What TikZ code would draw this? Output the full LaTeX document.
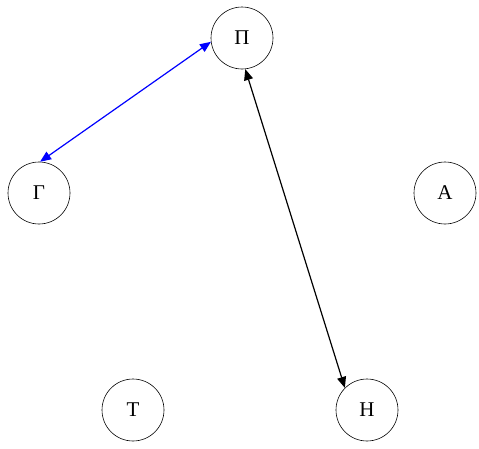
\documentclass[tikz,border=0pt]{standalone}
\usepackage{fontspec}
\newfontfamily\grfont[Scale=2.1]{Liberation Serif}
\usetikzlibrary{arrows.meta}
\begin{document}
\begin{tikzpicture}[x=1pt,y=-1pt,
  vtx/.style={circle,draw,line width=0.6pt,minimum size=62pt,inner sep=0pt,font=\grfont},
  edge/.style={line width=1.2pt,{Triangle[length=11pt,width=9pt]}-{Triangle[length=11pt,width=9pt]}}]
\useasboundingbox (0,0) rectangle (479,448);
\node[vtx] (P) at (242,38) {Π};
\node[vtx] (G) at (39,193) {Γ};
\node[vtx] (A) at (445,193) {Α};
\node[vtx] (T) at (133,410) {Τ};
\node[vtx] (H) at (367,410) {Η};
\draw[edge,blue] (P.187) -- (G.88);
\draw[edge,black] (P.-84) -- (H.135);
\end{tikzpicture}
\end{document}
